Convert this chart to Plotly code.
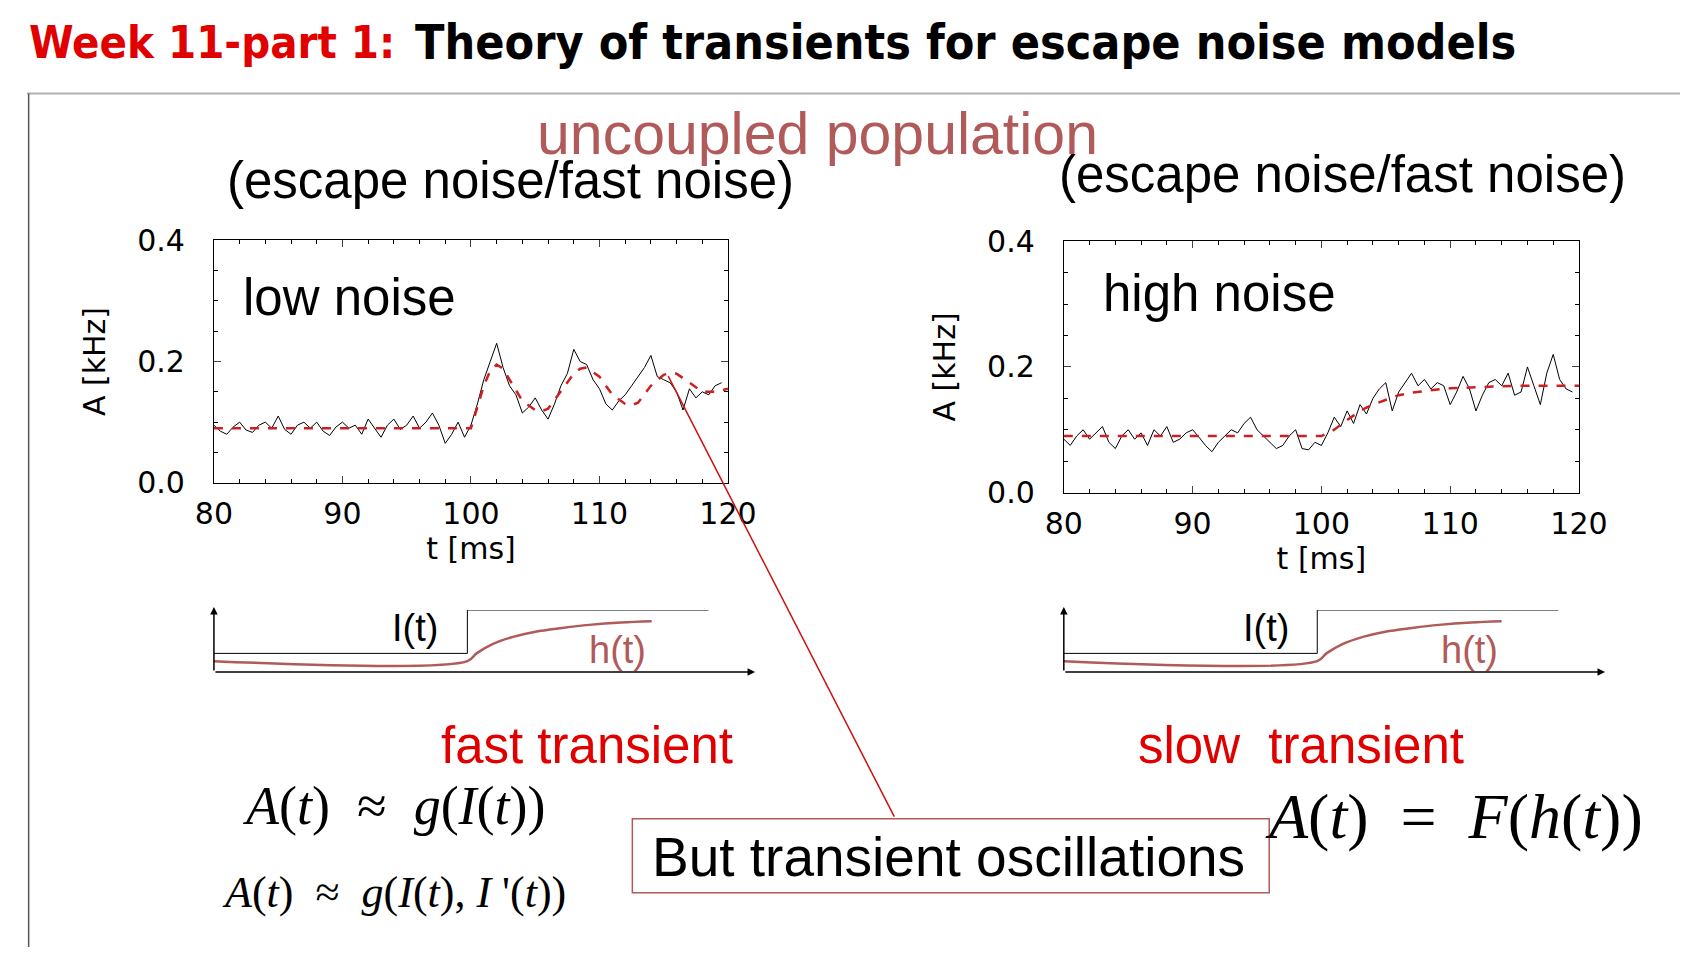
import plotly.graph_objects as go

W, H = 1701, 957
S = 1701 / 1568

def px(x): return ((x - 25) / 0.97) * S / W
def py(y): return 1 - ((y - 23) / 0.96) * S / H

# ---- data ----
low_noisy = [0.095,0.085,0.08,0.092,0.1,0.087,0.083,0.095,0.1,0.09,0.11,0.088,0.08,0.095,0.1,0.09,0.1,0.085,0.078,0.092,
             0.1,0.09,0.095,0.08,0.105,0.09,0.075,0.095,0.105,0.088,0.095,0.11,0.09,0.1,0.115,0.095,0.065,0.08,0.1,0.075,0.095,
             0.13,0.17,0.2,0.23,0.19,0.16,0.145,0.115,0.125,0.14,0.12,0.105,0.13,0.16,0.18,0.22,0.2,0.195,0.17,0.155,
             0.13,0.12,0.135,0.145,0.16,0.175,0.19,0.21,0.175,0.17,0.165,0.15,0.12,0.155,0.14,0.15,0.145,0.16,0.165]
high_noisy = [0.085,0.075,0.09,0.1,0.085,0.095,0.105,0.08,0.07,0.09,0.1,0.085,0.095,0.075,0.1,0.09,0.105,0.08,0.085,0.095,
              0.1,0.088,0.075,0.065,0.08,0.09,0.1,0.095,0.11,0.12,0.1,0.09,0.08,0.07,0.075,0.09,0.1,0.07,0.068,0.08,0.075,
              0.095,0.12,0.105,0.13,0.11,0.14,0.125,0.15,0.165,0.175,0.13,0.16,0.175,0.19,0.17,0.18,0.165,0.175,0.17,0.14,
              0.16,0.185,0.165,0.13,0.155,0.175,0.18,0.17,0.19,0.155,0.16,0.2,0.17,0.14,0.19,0.22,0.18,0.165,0.16]
t_noisy = [80 + 0.5 * i for i in range(len(low_noisy))]

t_theory = [80, 100, 100.5, 101, 101.5, 102, 102.5, 103, 104, 105, 105.5, 106, 107, 108, 108.5, 109, 110, 111, 112,
            112.5, 113, 114, 115, 115.5, 116, 117, 118, 119, 120]
low_theory = [0.09, 0.09, 0.125, 0.16, 0.185, 0.195, 0.188, 0.17, 0.135, 0.12, 0.118, 0.122, 0.15, 0.18, 0.188, 0.19,
              0.175, 0.145, 0.13, 0.128, 0.132, 0.16, 0.178, 0.181, 0.18, 0.165, 0.15, 0.15, 0.155]
high_theory = [0.09, 0.09, 0.095, 0.1, 0.108, 0.115, 0.122, 0.13, 0.14, 0.148, 0.151, 0.155, 0.159, 0.162, 0.163, 0.164,
               0.166, 0.167, 0.168, 0.168, 0.169, 0.17, 0.17, 0.17, 0.17, 0.17, 0.17, 0.17, 0.17]

I_x = [0, 4.73, 4.73, 9.23]
I_y = [0.3, 0.3, 1.0, 1.0]
h_x = [0, 4.73, 4.9, 5.2, 5.6, 6.0, 6.5, 7.0, 7.6, 8.17]
h_y = [0.175, 0.175, 0.3, 0.45, 0.57, 0.65, 0.71, 0.76, 0.8, 0.82]

xticks = [80, 90, 100, 110, 120]
yticks = [0.0, 0.2, 0.4]

BROWN = "#b05a5a"
RED = "#e00000"

fig = go.Figure()
for i, (noisy, theory) in enumerate([(low_noisy, low_theory), (high_noisy, high_theory)]):
    xa = "x" if i == 0 else "x2"
    ya = "y" if i == 0 else "y2"
    fig.add_trace(go.Scatter(x=t_noisy, y=noisy, mode="lines", line=dict(color="black", width=1), xaxis=xa, yaxis=ya))
    fig.add_trace(go.Scatter(x=t_theory, y=theory, mode="lines", line=dict(color="#cc2020", width=2.5, dash="dash"),
                             xaxis=xa, yaxis=ya))
for i in range(2):
    xa = "x3" if i == 0 else "x4"
    ya = "y3" if i == 0 else "y4"
    fig.add_trace(go.Scatter(x=I_x, y=I_y, mode="lines", line=dict(color="black", width=1), xaxis=xa, yaxis=ya))
    fig.add_trace(go.Scatter(x=h_x, y=h_y, mode="lines", line=dict(color=BROWN, width=2.5), line_shape="spline",
                             xaxis=xa, yaxis=ya))

tickfont = dict(family="DejaVu Sans", size=30, color="black")
common_x = dict(range=[80, 120], tickvals=xticks, ticks="inside", ticklen=7, mirror="ticks", showline=True,
                linecolor="black", linewidth=1, showgrid=False, zeroline=False, tickfont=tickfont,
                ticklabelstandoff=4,
                minor=dict(dtick=2, ticks="inside", ticklen=4, tickcolor="black"),
                title=dict(text="t [ms]", font=dict(family="DejaVu Sans", size=30, color="black"), standoff=8))
common_y = dict(range=[0, 0.4], tickvals=yticks, tickformat=".1f", ticks="inside", ticklen=7, mirror="ticks",
                showline=True, linecolor="black", linewidth=1, showgrid=False, zeroline=False, tickfont=tickfont,
                ticklabelstandoff=22,
                minor=dict(dtick=0.05, ticks="inside", ticklen=4, tickcolor="black"),
                title=dict(text="A [kHz]", font=dict(family="DejaVu Sans", size=30, color="black"), standoff=22))
inset_x = dict(range=[0, 10], visible=False)
inset_y = dict(range=[0, 1], visible=False)

fig.update_layout(
    width=W, height=H, margin=dict(l=0, r=0, t=0, b=0), showlegend=False,
    paper_bgcolor="white", plot_bgcolor="white",
    xaxis=dict(domain=[px(197), px(670)], anchor="y", **common_x),
    yaxis=dict(domain=[py(443), py(220)], anchor="x", **common_y),
    xaxis2=dict(domain=[px(979), px(1453)], anchor="y2", **common_x),
    yaxis2=dict(domain=[py(452), py(221)], anchor="x2", **common_y),
    xaxis3=dict(domain=[px(197), px(690)], anchor="y3", **inset_x),
    yaxis3=dict(domain=[py(617), py(560)], anchor="x3", **inset_y),
    xaxis4=dict(domain=[px(979), px(1472)], anchor="y4", **inset_x),
    yaxis4=dict(domain=[py(617), py(560)], anchor="x4", **inset_y),
)

ann = []
def text(x, y, s, size, color="black", family="Liberation Sans", xanchor="center", **kw):
    ann.append(dict(x=max(px(x), 0), y=py(y), xref="paper", yref="paper", text=s, showarrow=False, xanchor=xanchor,
                    yanchor="middle", font=dict(family=family, size=size, color=color), **kw))

TF = "DejaVu Sans Condensed, DejaVu Sans"
text(18, 38, "<b>Week 11-part 1:</b>", 45, RED, TF, xanchor="left")
text(380, 38, "<b>Theory of transients for escape noise models</b>", 48, "black", TF, xanchor="left")
text(752, 122, "uncoupled population", 59, BROWN)
text(470, 165, "(escape noise/fast noise)", 51)
text(1235, 160, "(escape noise/fast noise)", 51)
text(222, 273, "low noise", 51, xanchor="left")
text(1013, 269, "high noise", 51, xanchor="left")
text(382, 577, "I(t)", 38)
text(568, 597, "h(t)", 38, BROWN)
text(1165, 577, "I(t)", 38)
text(1352, 597, "h(t)", 38, BROWN)
text(540, 685, "fast transient", 51, RED)
text(1197, 685, "slow  transient", 51, RED)
text(222, 740, "<i>A</i>(<i>t</i>)  ≈  <i>g</i>(<i>I</i>(<i>t</i>))", 54, family="Liberation Serif", xanchor="left")
text(203, 820, "<i>A</i>(<i>t</i>)  ≈  <i>g</i>(<i>I</i>(<i>t</i>), <i>I</i> '(<i>t</i>))", 44, family="Liberation Serif", xanchor="left")
text(1162, 750, "<i>A</i>(<i>t</i>)  =  <i>F</i>(<i>h</i>(<i>t</i>))", 64, family="Liberation Serif", xanchor="left")

for xa, ya in [("x3", "y3"), ("x4", "y4")]:
    ann.append(dict(x=10.1, y=0, ax=0, ay=0, xref=xa, yref=ya, axref=xa, ayref=ya, text="", showarrow=True,
                    arrowhead=2, arrowsize=1, arrowwidth=1.5, arrowcolor="black"))
    ann.append(dict(x=0, y=1.05, ax=0, ay=0, xref=xa, yref=ya, axref=xa, ayref=ya, text="", showarrow=True,
                    arrowhead=2, arrowsize=1, arrowwidth=1.5, arrowcolor="black"))

shapes = [
    dict(type="line", xref="paper", yref="paper", x0=0, x1=1, y0=py(85), y1=py(85), line=dict(color="#b0b0b0", width=2)),
    dict(type="line", xref="paper", yref="paper", x0=0.001, x1=0.001, y0=py(85), y1=0, line=dict(color="#555", width=1.5)),
    dict(type="line", xref="paper", yref="paper", x0=px(615), y0=py(345), x1=px(823), y1=py(750), line=dict(color="#cc1010", width=1.5)),
    dict(type="rect", xref="paper", yref="paper", x0=px(582), x1=px(1168), y0=py(820), y1=py(752),
         line=dict(color=BROWN, width=1.5), fillcolor="white"),
]
fig.update_layout(shapes=shapes)
text(873, 787, "But transient oscillations", 55)
fig.update_layout(annotations=ann)

fig.write_html("out.html")
